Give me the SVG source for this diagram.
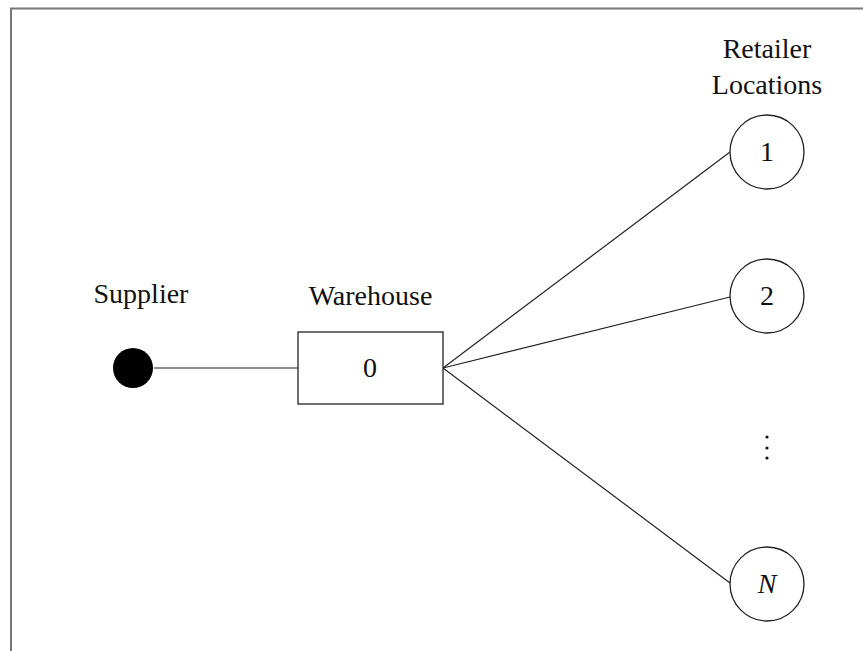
<svg xmlns="http://www.w3.org/2000/svg" width="863" height="651" viewBox="0 0 863 651">
<style>
text{font-family:"Liberation Serif","Times New Roman",serif;font-size:28px;fill:#111;text-anchor:middle}
.e{stroke:#222;stroke-width:1.2;fill:none}
.n{stroke:#222;stroke-width:1.3;fill:#fff}
</style>
<rect width="863" height="651" fill="#fff"/>
<path d="M11 651 V8.5 H863" fill="none" stroke="#777" stroke-width="2"/>
<g id="connectors">
<line class="e" x1="154" y1="368" x2="298" y2="368"/>
<line class="e" x1="443" y1="368" x2="730" y2="152"/>
<line class="e" x1="443" y1="368" x2="730" y2="297"/>
<line class="e" x1="443" y1="368" x2="730" y2="583"/>
</g>
<g id="supplier">
<circle cx="133" cy="368" r="20" fill="#000"/>
<text x="141" y="303">Supplier</text>
</g>
<g id="warehouse">
<rect class="n" x="298" y="332" width="145" height="72"/>
<text x="370" y="377">0</text>
<text x="370.5" y="305">Warehouse</text>
</g>
<g id="retailer-label">
<text x="767" y="58">Retailer</text>
<text x="767" y="94">Locations</text>
</g>
<g id="r1">
<circle class="n" cx="767" cy="152" r="37"/>
<text x="767" y="161">1</text>
</g>
<g id="r2">
<circle class="n" cx="767" cy="296" r="37"/>
<text x="767" y="305">2</text>
</g>
<g id="dots">
<circle cx="767" cy="437" r="1.6" fill="#111"/>
<circle cx="767" cy="448" r="1.6" fill="#111"/>
<circle cx="767" cy="458" r="1.6" fill="#111"/>
</g>
<g id="rN">
<circle class="n" cx="767" cy="584" r="37"/>
<text x="767" y="593" font-style="italic">N</text>
</g>
</svg>
